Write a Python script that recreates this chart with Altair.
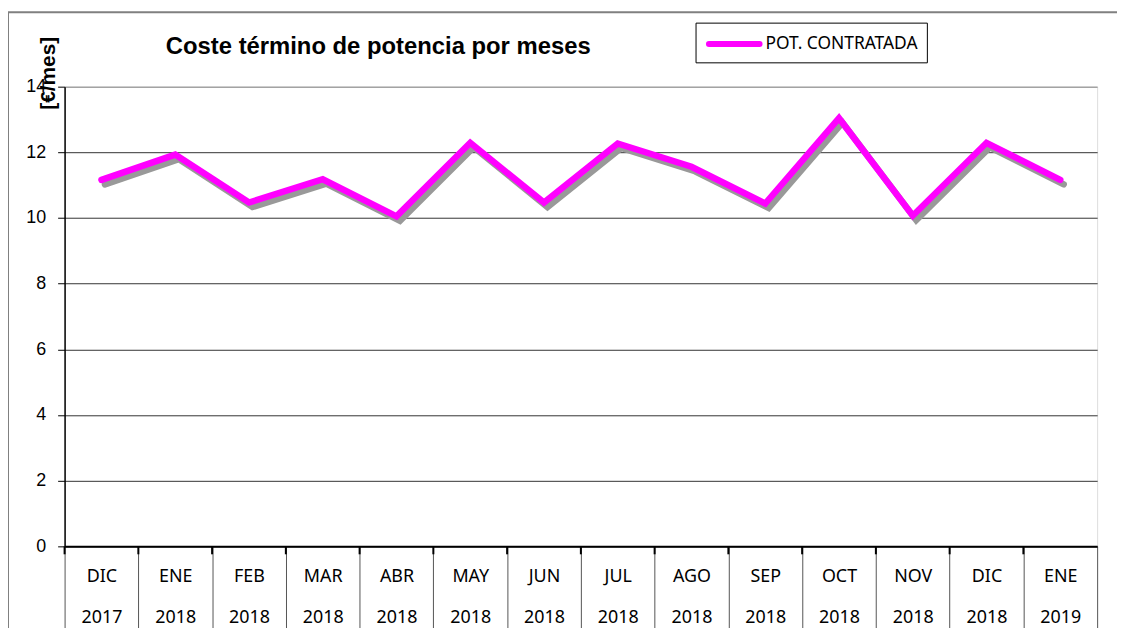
import altair as alt
import pandas as pd

categories = ["DIC 2017", "ENE 2018", "FEB 2018", "MAR 2018", "ABR 2018", "MAY 2018",
              "JUN 2018", "JUL 2018", "AGO 2018", "SEP 2018", "OCT 2018", "NOV 2018",
              "DIC 2018", "ENE 2019"]
values = [11.16, 11.93, 10.47, 11.18, 10.05, 12.29, 10.47, 12.27, 11.56, 10.44,
          13.04, 10.07, 12.29, 11.16]
series_name = "POT. CONTRATADA"
y_ticks = [0, 2, 4, 6, 8, 10, 12, 14]
title_text = "Coste término de potencia por meses"
y_title = "[€/mes]"

W, H = 1040, 463

df = pd.DataFrame({"mes": categories, "valor": values})

x_enc = alt.X("mes:N", sort=categories,
              scale=alt.Scale(paddingInner=0, paddingOuter=0),
              axis=alt.Axis(title=None, labelAngle=0, tickBand="extent", tickSize=82,
                            tickColor="#555555", tickWidth=1, domainColor="black",
                            domainWidth=2,
                            labelExpr="datum.value ? split(datum.value, ' ') : ''",
                            labelLineHeight=42,
                            labelBaseline="middle", labelPadding=-52,
                            labelFont="Noto Sans", labelFontSize=18, labelColor="black"))
y_enc = alt.Y("valor:Q", scale=alt.Scale(domain=[0, 14], nice=False, zero=True),
              axis=alt.Axis(values=y_ticks, title=y_title, titleAngle=-90,
                            titleX=-16, titleY=-14, titleAlign="center",
                            titleBaseline="middle",
                            titleFont="Liberation Sans", titleFontSize=21,
                            titleFontWeight="bold", titleColor="black",
                            labelFont="Liberation Sans", labelFontSize=18,
                            labelColor="black", labelPadding=12,
                            tickSize=7, tickColor="black", domainColor="black",
                            domainWidth=1.5,
                            gridColor=alt.condition("datum.value == 14",
                                                    alt.value("#808080"),
                                                    alt.value("#333333")),
                            gridWidth=1))

base = alt.Chart(df)

shadow = base.mark_line(color="#999999", strokeWidth=6.5, xOffset=3.5, yOffset=4.5,
                        strokeCap="round", strokeJoin="miter").encode(x=x_enc, y=y_enc)

line = base.mark_line(color="#FF00FF", strokeWidth=6.5, strokeCap="round",
                      strokeJoin="miter").encode(x=x_enc, y=y_enc)

short_ticks = base.mark_rule(color="black", strokeWidth=2).encode(
    x=alt.X("mes:N", sort=categories, bandPosition=0),
    y=alt.value(H), y2=alt.value(H + 8))

one = pd.DataFrame({"t": [series_name]})
outer = alt.Chart(one).mark_rect(fill=None, stroke="#808080", strokeWidth=2).encode(
    x=alt.value(-57), x2=alt.value(W + 120), y=alt.value(-75), y2=alt.value(H + 120))

legend_box = alt.Chart(one).mark_rect(fill="white", stroke="black", strokeWidth=1).encode(
    x=alt.value(636), x2=alt.value(869), y=alt.value(-64), y2=alt.value(-24))
legend_line = alt.Chart(one).mark_rule(color="#FF00FF", strokeWidth=6,
                                       strokeCap="round").encode(
    x=alt.value(649), x2=alt.value(700), y=alt.value(-43))
legend_text = alt.Chart(one).mark_text(align="left", baseline="middle", font="Noto Sans",
                                       fontSize=17.5, color="black").encode(
    text="t:N", x=alt.value(706), y=alt.value(-43))

title_df = pd.DataFrame({"t": [title_text]})
title = alt.Chart(title_df).mark_text(align="left", baseline="alphabetic",
                                      font="Liberation Sans", fontSize=24,
                                      fontWeight="bold", color="black").encode(
    text="t:N", x=alt.value(102), y=alt.value(-33))

chart = alt.layer(outer, shadow, line, short_ticks, legend_box, legend_line,
                  legend_text, title).properties(
    width=W, height=H,
    autosize=alt.AutoSizeParams(type="none"),
    padding={"left": 57, "top": 77, "right": 20, "bottom": 80},
).configure_view(stroke="#808080", strokeWidth=2).configure(background="white")

chart.save("out.html", embed_options={"renderer": "svg", "actions": False})
